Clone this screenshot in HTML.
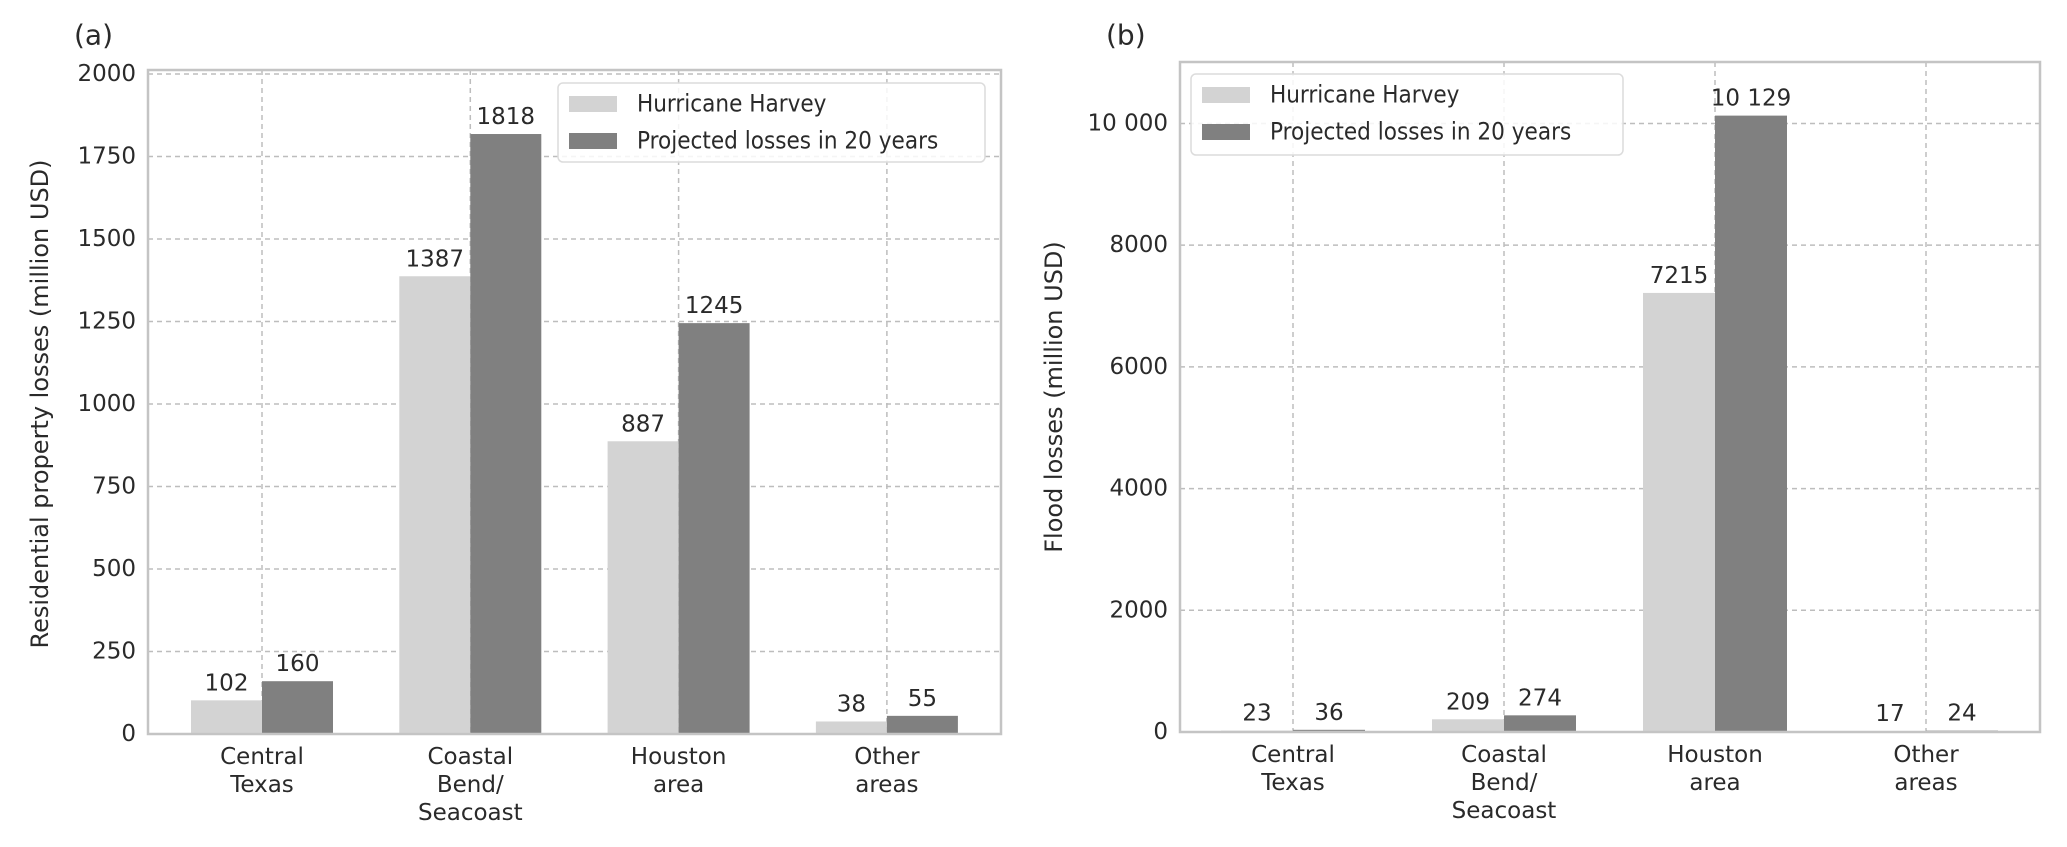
<!DOCTYPE html>
<html><head><meta charset="utf-8"><style>
html,body{margin:0;padding:0;background:#fff;width:2067px;height:847px;overflow:hidden}
svg text{font-family:"DejaVu Sans","Liberation Sans",sans-serif;fill:#2a2a2a}
</style></head><body>
<svg id="chart" width="2067" height="847" viewBox="0 0 2067 847" xmlns="http://www.w3.org/2000/svg"></svg>
<script>
const categories = [["Central","Texas"],["Coastal","Bend/","Seacoast"],["Houston","area"],["Other","areas"]];
const seriesNames = ["Hurricane Harvey","Projected losses in 20 years"];
const harveyA = [102,1387,887,38];
const projectedA = [160,1818,1245,55];
const harveyB = [23,209,7215,17];
const projectedB = [36,274,10129,24];
const ticksA = [0,250,500,750,1000,1250,1500,1750,2000];
const tickLabelsA = ["0","250","500","750","1000","1250","1500","1750","2000"];
const ticksB = [0,2000,4000,6000,8000,10000];
const tickLabelsB = ["0","2000","4000","6000","8000","10 000"];
const valueLabelsB = ["23","209","7215","17","36","274","10 129","24"];

const svg = document.getElementById('chart');
const NS = 'http://www.w3.org/2000/svg';
function mk(tag, attrs, parent){const e=document.createElementNS(NS,tag);for(const k in attrs)e.setAttribute(k,attrs[k]);(parent||svg).appendChild(e);return e;}
function txt(x,y,s,size,anchor,parent,rot,sx){
  const t=mk('text',{'font-size':size,'text-anchor':anchor||'middle','dominant-baseline':'central',
    transform:'translate('+x+','+y+')'+(rot?' rotate(-90)':'')+' scale('+(sx||1)+',1)'},parent);
  t.textContent=s;return t;
}
const COLORS=['#d3d3d3','#808080'];

function panel(cfg){
  const g=mk('g',{});
  
  
  const {L,R,T,B,ymax,first,step,bw}=cfg;
  const y=v=>B-(v/ymax)*(B-T);
  const x=i=>first+i*step;
  const grid=mk('g',{},g);
  
  
  cfg.ticks.forEach((v,i)=>{
    if(v>0) mk('line',{x1:L,x2:R,y1:y(v),y2:y(v),stroke:'#bdbdbd','stroke-width':1.5,'stroke-dasharray':'5,4'},grid);
    const tl=txt(L-12,y(v),cfg.tickLabels[i],23,'end',g);
    
    
  });
  categories.forEach((c,i)=>mk('line',{x1:x(i),x2:x(i),y1:T,y2:B,stroke:'#bdbdbd','stroke-width':1.5,'stroke-dasharray':'5,4'},grid));
  [cfg.s1,cfg.s2].forEach((arr,si)=>{
    arr.forEach((v,i)=>{
      const bx=x(i)+(si===0?-bw:0);
      const r=mk('rect',{x:bx,y:y(v),width:bw,height:B-y(v),fill:COLORS[si]},g);
      
      
      const lab=cfg.labels?cfg.labels[si*4+i]:String(v);
      const t=txt(bx+bw/2,y(v)-17,lab,23,'middle',g);
      
      
    });
  });
  const fr=mk('rect',{x:L,y:T,width:R-L,height:B-T,fill:'none',stroke:'#c4c4c4','stroke-width':2.5},g);
  
  
  categories.forEach((c,i)=>{
    c.forEach((line,j)=>{
      const t=txt(x(i),B+23+j*28,line,23,'middle',g);
      
      
    });
  });
  const yt=txt(cfg.ytx,cfg.yty,cfg.ytitle,24,'middle',g,true);
  
  
  const pl=txt(cfg.plx,35,cfg.plabel,28,'start',g);
  
  
  const lg=mk('g',{},g);
  
  
  const [lx1,ly1,lx2,ly2]=cfg.leg;
  mk('rect',{x:lx1,y:ly1,width:lx2-lx1,height:ly2-ly1,rx:5,fill:'#fff','fill-opacity':0.85,stroke:'#dcdcdc','stroke-width':1.5},lg);
  seriesNames.forEach((n,k)=>{
    const cy=ly1+21+k*37;
    const sw=mk('rect',{x:lx1+11,y:cy-8,width:48,height:16,fill:COLORS[k]},lg);
    
    
    const t=txt(lx1+79,cy,n,24,'start',lg,false,0.9);
    
    
  });
}

panel({name:'panel-a',L:148,R:1001,T:70,B:734,ymax:2012,first:262,step:208.3,bw:71,
  s1:harveyA,s2:projectedA,ticks:ticksA,tickLabels:tickLabelsA,
  ytitle:'Residential property losses (million USD)',ytx:40,yty:404,plx:74,plabel:'(a)',
  leg:[558,83,985,162]});
panel({name:'panel-b',L:1180,R:2040,T:62,B:732,ymax:11010,first:1293,step:211,bw:72,
  s1:harveyB,s2:projectedB,ticks:ticksB,tickLabels:tickLabelsB,labels:valueLabelsB,
  ytitle:'Flood losses (million USD)',ytx:1054,yty:397,plx:1106,plabel:'(b)',
  leg:[1191,74,1623,155]});
</script>
</body></html>
